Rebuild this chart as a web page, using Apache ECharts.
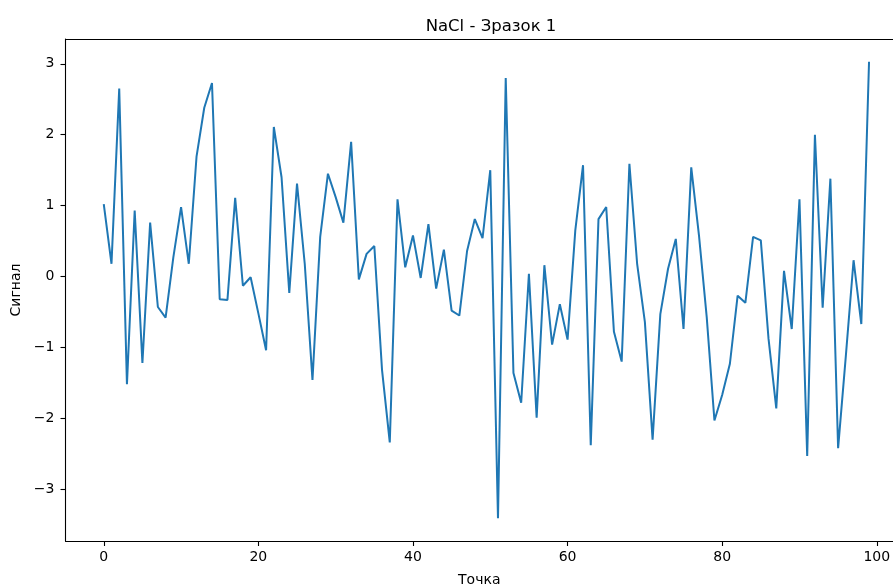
<!DOCTYPE html>
<html>
<head>
<meta charset="utf-8">
<script src="https://cdn.jsdelivr.net/npm/echarts@6/dist/echarts.min.js"></script>
<style>
  html, body { margin: 0; padding: 0; background: #fff; }
  #chart { width: 893px; height: 586px; }
</style>
</head>
<body>
<div id="chart"></div>
<script>
// signal values, one per point (index 0..99)
var signal = [
  1.02, 0.18, 2.65, -1.52, 0.93, -1.22, 0.76, -0.43, -0.58, 0.27,
  0.98, 0.18, 1.69, 2.38, 2.73, -0.32, -0.33, 1.11, -0.13, -0.01,
  -0.52, -1.04, 2.11, 1.40, -0.23, 1.31, 0.18, -1.46, 0.56, 1.45,
  1.12, 0.76, 1.90, -0.04, 0.32, 0.43, -1.32, -2.34, 1.09, 0.13,
  0.58, -0.02, 0.74, -0.17, 0.38, -0.48, -0.55, 0.36, 0.81, 0.54,
  1.50, -3.41, 2.80, -1.36, -1.78, 0.04, -1.99, 0.16, -0.96, -0.39,
  -0.89, 0.65, 1.57, -2.38, 0.81, 0.98, -0.78, -1.20, 1.59, 0.18,
  -0.64, -2.30, -0.53, 0.11, 0.53, -0.74, 1.54, 0.58, -0.57, -2.03,
  -1.67, -1.23, -0.27, -0.37, 0.56, 0.51, -0.88, -1.86, 0.08, -0.74,
  1.09, -2.53, 2.00, -0.44, 1.38, -2.42, -1.12, 0.23, -0.67, 3.03
];
var xTicks = [0, 20, 40, 60, 80, 100];
var yTicks = [-3, -2, -1, 0, 1, 2, 3];

var FONT = 'DejaVu Sans';
var chart = echarts.init(document.getElementById('chart'), null, { renderer: 'canvas' });

function fmt(v) {
  return v < 0 ? '\u2212' + Math.abs(v) : String(v);
}

// the original figure is cut at the right, so the x range ends where the picture ends
var xMin = -4.95, xMax = 102.1;

chart.setOption({
  animation: false,
  title: {
    text: 'NaCl - Зразок 1',
    left: 486,
    top: 13,
    textAlign: 'center',
    textStyle: { fontFamily: FONT, fontSize: 16.5, fontWeight: 'normal', color: '#000' }
  },
  grid: { left: 65.5, right: 0, top: 39, bottom: 45, outerBoundsMode: 'none', containLabel: false },
  xAxis: [{
    type: 'value',
    min: xMin,
    max: xMax,
    name: 'Точка',
    nameLocation: 'middle',
    nameGap: 32,
    nameTextStyle: { fontFamily: FONT, fontSize: 14, color: '#000' },
    splitLine: { show: false },
    axisLine: { show: true, onZero: false, lineStyle: { color: '#000', width: 1.1 } },
    axisTick: { show: true, length: 5, customValues: xTicks, lineStyle: { color: '#000', width: 1.1 } },
    axisLabel: { margin: 9, customValues: xTicks, fontFamily: FONT, fontSize: 14, color: '#000', formatter: fmt }
  }, {
    // top spine
    type: 'value',
    position: 'top',
    min: xMin,
    max: xMax,
    splitLine: { show: false },
    axisLine: { show: true, onZero: false, lineStyle: { color: '#000', width: 1.1 } },
    axisTick: { show: false },
    axisLabel: { show: false }
  }],
  yAxis: {
    type: 'value',
    min: -3.73,
    max: 3.35,
    name: 'Сигнал',
    nameLocation: 'middle',
    nameGap: 42,
    nameTextStyle: { fontFamily: FONT, fontSize: 14, color: '#000' },
    splitLine: { show: false },
    axisLine: { show: true, onZero: false, lineStyle: { color: '#000', width: 1.1 } },
    axisTick: { show: true, length: 5, customValues: yTicks, lineStyle: { color: '#000', width: 1.1 } },
    axisLabel: { margin: 11, customValues: yTicks, fontFamily: FONT, fontSize: 14, color: '#000', formatter: fmt }
  },
  series: [{
    type: 'line',
    xAxisIndex: 0,
    data: signal.map(function (v, i) { return [i, v]; }),
    showSymbol: false,
    lineStyle: { color: '#1f77b4', width: 2 },
    itemStyle: { color: '#1f77b4' }
  }]
});
</script>
</body>
</html>
